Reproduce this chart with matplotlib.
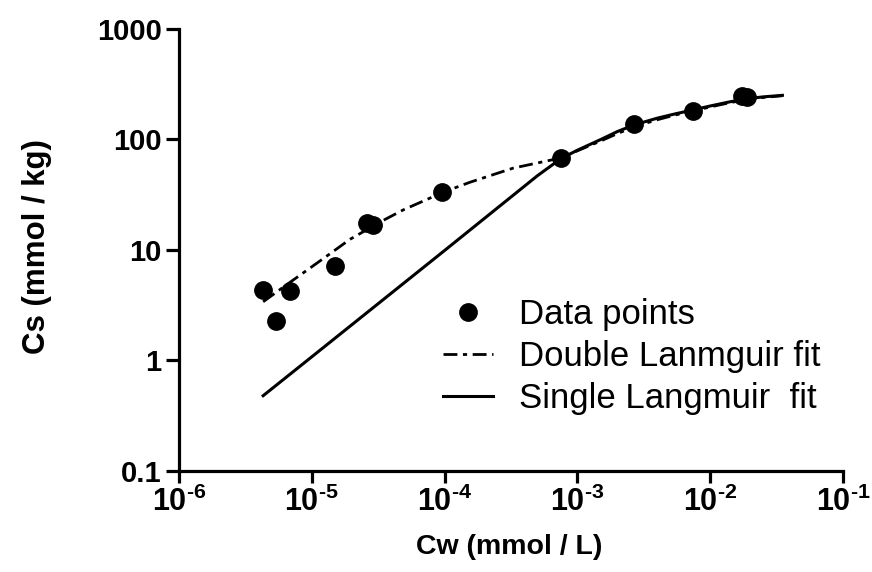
import matplotlib
matplotlib.use("Agg")
import matplotlib.pyplot as plt
from matplotlib.ticker import FixedLocator, FixedFormatter, NullLocator

plt.rcParams['font.family'] = ['Liberation Sans', 'DejaVu Sans']
plt.rcParams['mathtext.fontset'] = 'custom'
plt.rcParams['mathtext.rm'] = 'Liberation Sans:bold'
plt.rcParams['mathtext.it'] = 'Liberation Sans:bold'
plt.rcParams['mathtext.bf'] = 'Liberation Sans:bold'

# measured data points
cw_data = [4.3e-6, 5.4e-6, 6.85e-6, 1.5e-5, 2.6e-5, 2.9e-5, 9.55e-5, 7.5e-4, 2.67e-3, 7.4e-3, 1.75e-2, 1.9e-2]
cs_data = [4.35, 2.28, 4.26, 7.2, 17.6, 16.8, 33.5, 68, 138, 181, 245, 240]

# double Langmuir fit
cw_double = [4.3e-6, 6.85e-6, 1.21e-5, 1.94e-5, 3.44e-5, 4.86e-5, 7.76e-5, 9.55e-5, 1.55e-4, 3.27e-4,
             5.9e-4, 7.5e-4, 1e-3, 1.5e-3, 2e-3, 2.7e-3, 4e-3, 5.5e-3, 7.4e-3, 1e-2, 1.4e-2,
             1.85e-2, 2.5e-2, 3.5e-2]
cs_double = [3.4, 5.1, 8.3, 12.5, 18.5, 23, 29.5, 33, 41, 55,
             64, 68, 79, 97, 113, 131, 151, 167, 181, 197, 215,
             229, 240, 249]

# single Langmuir fit
cw_single = [4.3e-6, 1e-5, 1e-4, 5e-4, 7.5e-4, 1e-3, 1.5e-3, 2e-3, 2.7e-3, 4e-3, 5.5e-3,
             7.4e-3, 1e-2, 1.4e-2, 1.85e-2, 2.5e-2, 3.5e-2]
cs_single = [0.48, 1.08, 9.9, 47, 67, 80, 100, 118, 136, 156, 171,
             185, 201, 219, 233, 243, 251]

x_ticks = [1e-6, 1e-5, 1e-4, 1e-3, 1e-2, 1e-1]
x_labels = ['$10^{\u2010' + str(p) + '}$' for p in [6, 5, 4, 3, 2, 1]]
y_ticks = [0.1, 1, 10, 100, 1000]
y_labels = ['0.1', '1', '10', '100', '1000']

fig = plt.figure(figsize=(8.72, 5.72), dpi=100)
ax = fig.add_axes([0.2053, 0.1766, 0.7614, 0.7727])

ax.plot(cw_double, cs_double, color='black', lw=2, dashes=(5, 2, 1.5, 2),
        label='Double Lanmguir fit', zorder=2)
ax.plot(cw_single, cs_single, color='black', lw=2.2, label='Single Langmuir  fit', zorder=2)
ax.plot(cw_data, cs_data, 'o', color='black', ms=12.5, label='Data points', zorder=3)

ax.set_xscale('log')
ax.set_yscale('log')
ax.set_xlim(1e-6, 1e-1)
ax.set_ylim(0.1, 1000)

ax.xaxis.set_major_locator(FixedLocator(x_ticks))
ax.xaxis.set_major_formatter(FixedFormatter(x_labels))
ax.yaxis.set_major_locator(FixedLocator(y_ticks))
ax.yaxis.set_major_formatter(FixedFormatter(y_labels))
ax.xaxis.set_minor_locator(NullLocator())
ax.yaxis.set_minor_locator(NullLocator())

for s in ['top', 'right']:
    ax.spines[s].set_visible(False)
for s in ['left', 'bottom']:
    ax.spines[s].set_linewidth(2.3)
ax.tick_params(axis='x', which='major', length=8.5, width=2.3, pad=3, labelsize=22)
ax.tick_params(axis='y', which='major', length=9.5, width=2.3, pad=3, labelsize=21)
for lab in ax.get_yticklabels():
    lab.set_fontweight('bold')

ax.set_xlabel('Cw (mmol / L)', fontsize=20.5, fontweight='bold', va='top')
ax.xaxis.set_label_coords(0.497, -0.143)
ax.set_ylabel('Cs (mmol / kg)', fontsize=22.5, fontweight='bold')
ax.yaxis.set_label_coords(-0.191, 0.507)

handles, labels = ax.get_legend_handles_labels()
order = [2, 0, 1]
ax.legend([handles[i] for i in order], [labels[i] for i in order],
          loc='upper left', bbox_to_anchor=(443 / 872, 1 - 298 / 572),
          bbox_transform=fig.transFigure, frameon=False, fontsize=25,
          handlelength=1.44, handletextpad=0.74, labelspacing=0.26, borderpad=0,
          borderaxespad=0)

fig.savefig('out.png', dpi=100)
